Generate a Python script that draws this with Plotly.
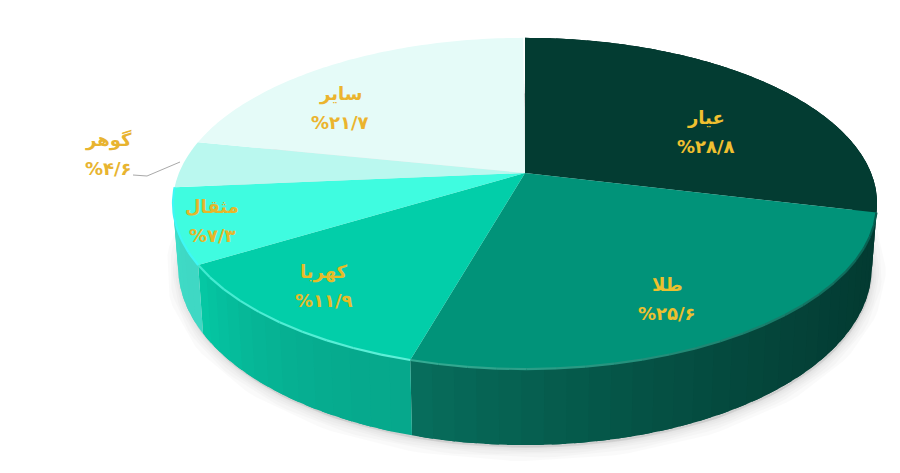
import math
import plotly.graph_objects as go

# ---- data ----
names = ["عیار", "طلا", "کهربا", "مثقال", "گوهر", "سایر"]
shares = [28.8, 25.6, 11.9, 7.3, 4.6, 21.7]

# ---- styles ----
top_colors = ["#033c32", "#019379", "#02cea9", "#3ffce0", "#baf8ef", "#e5fbf8"]
wall_colors = [("#04332b", "#04332b"), ("#033a31", "#076f5d"), ("#06a88c", "#05c9a5"),
               ("#3fd8c4", "#3fdfca"), None, None]
rim_colors = [None, ("#04594b", "#35ad95"), ("#5ff0d8", "#3eead0"),
              ("#3ff8f5", "#3ff8f5"), None, None]
label_pos = [(706, 132), (667, 299), (324, 286), (212, 221), (108, 154), (340, 108)]
label_gap = 14.5
label_colors = ["#f0c030", "#edc02e", "#e6bc28", "#e6b62a", "#e8b430", "#ebb42e"]
leader_x = [133, 147, 180]
leader_y = [175, 176, 162]
CX, CY, A, B, K, WALL, BASE_SCALE = 525, 173, 346, 160, 0.184, 62, 0.985
DIGITS = str.maketrans("0123456789", "۰۱۲۳۴۵۶۷۸۹")


def rim(deg):
    t = math.radians(deg)
    w = 1 + K * math.cos(t)
    return CX + A * math.sin(t) / w, CY - B * math.cos(t) / w


def base(deg):
    t = math.radians(deg)
    w = 1 + K * math.cos(t)
    x, y = rim(deg)
    return CX + (x - CX) * BASE_SCALE, y + WALL / w


def arc(a, b, step=1.0):
    n = max(2, int(abs(b - a) / step) + 1)
    return [a + (b - a) * i / (n - 1) for i in range(n)]


def mix(c1, c2, f):
    p = [int(c1[i:i + 2], 16) for i in (1, 3, 5)]
    q = [int(c2[i:i + 2], 16) for i in (1, 3, 5)]
    return "rgb(%d,%d,%d)" % tuple(round(u + (v - u) * f) for u, v in zip(p, q))


def poly(xs, ys, fill):
    return go.Scatter(x=xs, y=ys, mode="none", fill="toself", fillcolor=fill,
                      hoverinfo="skip", showlegend=False)


fig = go.Figure()

# cumulative angles
edges = [0.0]
for s in shares:
    edges.append(edges[-1] + s * 3.6)

# soft shadow under the base
outline = [base(d) for d in arc(0, 360, 2)]
sx = [p[0] + 1 for p in outline]
sy = [p[1] + 3 for p in outline]
for w in (26, 19, 13, 8, 4):
    fig.add_trace(go.Scatter(x=sx, y=sy, mode="lines", fill="toself",
                             fillcolor="rgba(0,0,0,0.02)",
                             line=dict(color="rgba(0,0,0,0.02)", width=w),
                             hoverinfo="skip", showlegend=False))

# walls: each strip overlaps the next one, which paints over it, so no seams show
for i, pair in enumerate(wall_colors):
    if pair is None:
        continue
    a, b = edges[i], edges[i + 1]
    ticks = arc(a, b, 3)
    for u, v in zip(ticks[:-1], ticks[1:]):
        f = ((u + v) / 2 - a) / (b - a)
        col = mix(pair[0], pair[1], f ** 1.8)
        pts = arc(u, min(b, v + 2), 1)
        top = [rim(d) for d in pts]
        bot = [base(d) for d in reversed(pts)]
        fig.add_trace(poly([p[0] for p in top + bot], [p[1] for p in top + bot], col))

# top faces
for i, col in enumerate(top_colors):
    pts = [rim(d) for d in arc(edges[i], edges[i + 1])]
    xs = [CX] + [p[0] for p in pts] + [CX]
    ys = [CY] + [p[1] for p in pts] + [CY]
    fig.add_trace(poly(xs, ys, col))

# bevel highlight along the front rim
for i, pair in enumerate(rim_colors):
    if pair is None:
        continue
    a, b = edges[i], edges[i + 1]
    ticks = arc(a, b, 4)
    for u, v in zip(ticks[:-1], ticks[1:]):
        f = ((u + v) / 2 - a) / (b - a)
        pts = [rim(d) for d in arc(u, v, 1)]
        fig.add_trace(go.Scatter(x=[p[0] for p in pts], y=[p[1] for p in pts], mode="lines",
                                 line=dict(color=mix(pair[0], pair[1], f), width=2.2),
                                 hoverinfo="skip", showlegend=False))

# leader line
fig.add_trace(go.Scatter(x=leader_x, y=leader_y, mode="lines",
                         line=dict(color="#a9a9a9", width=1),
                         hoverinfo="skip", showlegend=False))

# labels
for name, share, pos, col in zip(names, shares, label_pos, label_colors):
    value = "%" + f"{share:.1f}".replace(".", "/").translate(DIGITS)
    font = dict(family="DejaVu Sans", size=18, color=col, weight="bold")
    fig.add_annotation(x=pos[0], y=pos[1] - label_gap, text=name, showarrow=False, font=font)
    fig.add_annotation(x=pos[0], y=pos[1] + label_gap, text=value, showarrow=False, font=font)

fig.update_layout(
    width=900, height=473, margin=dict(l=0, r=0, t=0, b=0),
    paper_bgcolor="white", plot_bgcolor="white", showlegend=False,
    xaxis=dict(range=[0, 900], visible=False, fixedrange=True),
    yaxis=dict(range=[473, 0], visible=False, fixedrange=True),
)
fig.write_html("out.html", config={"displayModeBar": False},
               post_script="document.body.style.margin='0';")
